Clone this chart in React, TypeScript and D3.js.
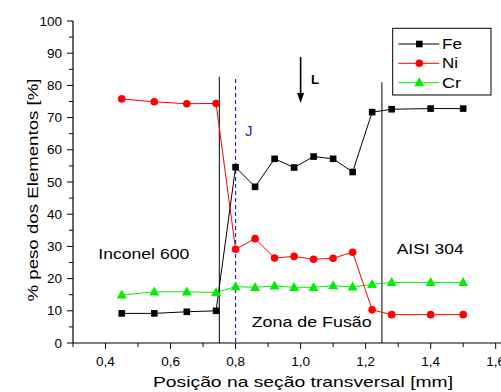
import React from "react";
import * as d3 from "d3";

const feX = [0.45, 0.55, 0.65, 0.74, 0.8, 0.86, 0.92, 0.98, 1.04, 1.1, 1.16, 1.22, 1.28, 1.4, 1.5];
const feY = [9.2, 9.2, 9.7, 10.0, 54.6, 48.5, 57.2, 54.5, 57.9, 57.2, 53.1, 71.7, 72.6, 72.8, 72.8];
const niX = [0.45, 0.55, 0.65, 0.74, 0.8, 0.86, 0.92, 0.98, 1.04, 1.1, 1.16, 1.22, 1.28, 1.4, 1.5];
const niY = [75.8, 74.9, 74.3, 74.4, 29.1, 32.4, 26.4, 26.9, 26.0, 26.3, 28.2, 10.3, 8.8, 8.8, 8.8];
const crX = [0.45, 0.55, 0.65, 0.74, 0.8, 0.86, 0.92, 0.98, 1.04, 1.1, 1.16, 1.22, 1.28, 1.4, 1.5];
const crY = [14.9, 15.9, 15.9, 15.7, 17.5, 17.3, 17.7, 17.3, 17.3, 17.8, 17.4, 18.2, 18.8, 18.8, 18.8];

const xMajor = [0.4, 0.6, 0.8, 1.0, 1.2, 1.4, 1.6];
const xMinor = [0.3, 0.5, 0.7, 0.9, 1.1, 1.3, 1.5];
const yMajor = [0, 10, 20, 30, 40, 50, 60, 70, 80, 90, 100];
const yMinor = [5, 15, 25, 35, 45, 55, 65, 75, 85, 95];

const boundaryLines = [
  { x: 0.75, top: 82.7 },
  { x: 1.25, top: 81.0 },
];
const jLine = { x: 0.8, top: 82.0 };
const arrowL = { x: 1.0, from: 88.8, to: 74.5 };

const FONT = "Arial, 'Liberation Sans', sans-serif";

export default function App() {
  const x = d3.scaleLinear().domain([0.3, 1.62]).range([73, 502.2]);
  const y = d3.scaleLinear().domain([0, 100]).range([343, 21]);
  const line = d3
    .line<[number, number]>()
    .x((d) => x(d[0]))
    .y((d) => y(d[1]));
  const fe = feX.map((v, i) => [v, feY[i]] as [number, number]);
  const ni = niX.map((v, i) => [v, niY[i]] as [number, number]);
  const cr = crX.map((v, i) => [v, crY[i]] as [number, number]);
  const fmt = (v: number) => v.toFixed(1).replace(".", ",");
  const tri = (cx: number, cy: number, s: number) =>
    `M${cx},${cy - s * 0.6} L${cx + s * 0.55},${cy + s * 0.4} L${cx - s * 0.55},${cy + s * 0.4} Z`;

  const ax0 = arrowL.x;
  return (
    <svg
      width={501}
      height={392}
      style={{ position: "absolute", left: 0, top: 0, background: "#fff" }}
      fontFamily={FONT}
    >
      <rect x={0} y={0} width={501} height={392} fill="#fff" />
      {/* axes */}
      <line x1={x(0.3)} x2={x(1.62)} y1={y(0)} y2={y(0)} stroke="#000" strokeWidth={1.2} />
      <line x1={x(0.3)} x2={x(0.3)} y1={y(0)} y2={y(100)} stroke="#000" strokeWidth={1.2} />
      {xMajor.map((t) => (
        <g key={"xm" + t}>
          <line x1={x(t)} x2={x(t)} y1={y(0)} y2={y(0) + 6} stroke="#000" />
          <text x={x(t)} y={366} fontSize={13.5} textAnchor="middle">
            {fmt(t)}
          </text>
        </g>
      ))}
      {xMinor.map((t) => (
        <line key={"xn" + t} x1={x(t)} x2={x(t)} y1={y(0)} y2={y(0) + 4} stroke="#000" />
      ))}
      {yMajor.map((t) => (
        <g key={"ym" + t}>
          <line x1={x(0.3) - 6} x2={x(0.3)} y1={y(t)} y2={y(t)} stroke="#000" />
          <text x={62} y={y(t) + 4.5} fontSize={13.5} textAnchor="end">
            {t}
          </text>
        </g>
      ))}
      {yMinor.map((t) => (
        <line key={"yn" + t} x1={x(0.3) - 4} x2={x(0.3)} y1={y(t)} y2={y(t)} stroke="#000" />
      ))}
      <text
        x={303}
        y={387}
        fontSize={15}
        textAnchor="middle"
        textLength={300}
        lengthAdjust="spacingAndGlyphs"
      >
        Posição na seção transversal [mm]
      </text>
      <text
        transform="translate(38,190) rotate(-90)"
        fontSize={15}
        textAnchor="middle"
        textLength={223}
        lengthAdjust="spacingAndGlyphs"
      >
        % peso dos Elementos [%]
      </text>

      {/* vertical lines */}
      {boundaryLines.map((b) => (
        <line key={"b" + b.x} x1={x(b.x)} x2={x(b.x)} y1={y(b.top)} y2={y(0)} stroke="#000" strokeWidth={1} />
      ))}
      <line
        x1={x(jLine.x)}
        x2={x(jLine.x)}
        y1={y(jLine.top)}
        y2={y(0)}
        stroke="#2222dd"
        strokeWidth={1.2}
        strokeDasharray="4,3"
      />
      <text x={245} y={136} fontSize={15} fill="#2222dd">J</text>

      {/* arrow L */}
      <line x1={x(ax0)} x2={x(ax0)} y1={y(arrowL.from)} y2={y(arrowL.to) - 8} stroke="#000" strokeWidth={1.6} />
      <path
        d={`M${x(ax0) - 3.5},${y(arrowL.to) - 10} L${x(ax0) + 3.5},${y(arrowL.to) - 10} L${x(ax0)},${y(arrowL.to)} Z`}
        fill="#000"
      />
      <text x={311} y={83.5} fontSize={13} fontWeight="bold">L</text>

      {/* region labels */}
      <text x={98.3} y={259} fontSize={15} textLength={91} lengthAdjust="spacingAndGlyphs">Inconel 600</text>
      <text x={396.7} y={254.3} fontSize={15} textLength={67} lengthAdjust="spacingAndGlyphs">AISI 304</text>
      <text x={251.7} y={326.7} fontSize={15} textLength={120} lengthAdjust="spacingAndGlyphs">Zona de Fusão</text>

      {/* series */}
      <path d={line(cr) || ""} fill="none" stroke="#00ee00" strokeWidth={1} />
      <path d={line(ni) || ""} fill="none" stroke="#ff0000" strokeWidth={1} />
      <path d={line(fe) || ""} fill="none" stroke="#000" strokeWidth={1} />
      {cr.map((d, i) => (
        <path key={"c" + i} d={tri(x(d[0]), y(d[1]), 9)} fill="#00ee00" />
      ))}
      {ni.map((d, i) => (
        <circle key={"n" + i} cx={x(d[0])} cy={y(d[1])} r={3.8} fill="#ff0000" />
      ))}
      {fe.map((d, i) => (
        <rect key={"f" + i} x={x(d[0]) - 3.3} y={y(d[1]) - 3.3} width={6.6} height={6.6} fill="#000" />
      ))}

      {/* legend */}
      <rect x={392.7} y={28.3} width={98.3} height={66.7} fill="#fff" stroke="#000" strokeWidth={1} />
      <line x1={398.3} x2={439.3} y1={44} y2={44} stroke="#000" />
      <rect x={419.3 - 3.3} y={44 - 3.3} width={6.6} height={6.6} fill="#000" />
      <text x={442} y={48.8} fontSize={14.5} textLength={20} lengthAdjust="spacingAndGlyphs">Fe</text>
      <line x1={398.3} x2={439.3} y1={63.3} y2={63.3} stroke="#ff0000" />
      <circle cx={419.3} cy={63.3} r={3.8} fill="#ff0000" />
      <text x={442} y={68.2} fontSize={14.5} textLength={16} lengthAdjust="spacingAndGlyphs">Ni</text>
      <line x1={398.3} x2={439.3} y1={82.7} y2={82.7} stroke="#00ee00" />
      <path d={tri(419.3, 82.7, 9)} fill="#00ee00" />
      <text x={442} y={87.6} fontSize={14.5} textLength={19} lengthAdjust="spacingAndGlyphs">Cr</text>
    </svg>
  );
}
